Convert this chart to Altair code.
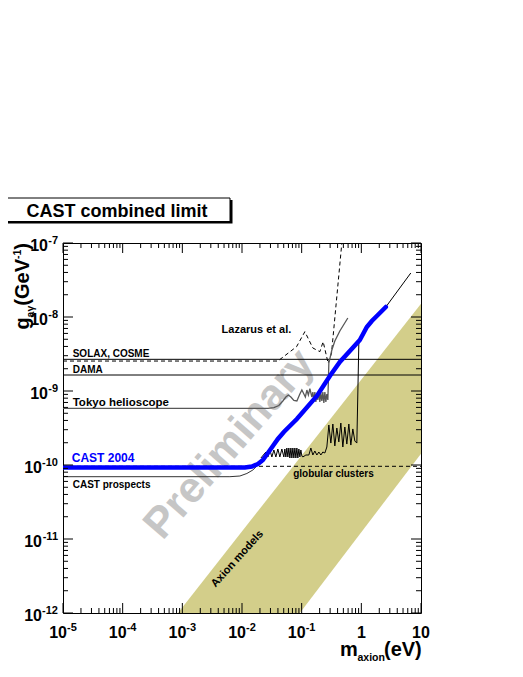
import altair as alt
import pandas as pd

FONT = "Liberation Sans"

# ---------------- data (mass in eV, coupling in GeV^-1) ----------------
blue_m = [1e-5, 0.01118, 0.01465, 0.01846, 0.02239, 0.02716, 0.03292, 0.03991, 0.05029,
          0.08309, 0.1797, 0.2968, 0.4363, 0.6417, 0.944, 1.236, 1.499, 1.890, 2.573]
blue_g = [9.25e-11, 9.25e-11, 9.54e-11, 1.032e-10, 1.168e-10, 1.453e-10, 1.81e-10, 2.245e-10, 2.79e-10,
          4.18e-10, 8.56e-10, 1.594e-9, 2.465e-9, 3.47e-9, 4.89e-9, 7.33e-9, 8.83e-9, 1.064e-8, 1.365e-8]

ext_m = [2.573, 6.745]
ext_g = [1.365e-8, 3.93e-8]

prosp_m = [1e-5, 0.00627, 0.00922, 0.01208, 0.01522, 0.01846, 0.02154]
prosp_g = [6.95e-11, 6.95e-11, 7.10e-11, 7.68e-11, 8.56e-11, 1.0e-10, 1.168e-10]

tokyo_m = [1e-5, 0.02716, 0.03421, 0.04148, 0.04839, 0.05431, 0.0598, 0.06594, 0.07401, 0.08309,
           0.09329, 0.1008, 0.1089, 0.1153, 0.1222, 0.1294, 0.1372, 0.1482, 0.1540, 0.1601,
           0.1664, 0.1729, 0.1797, 0.1868, 0.1941, 0.2017, 0.2097, 0.2180, 0.2265, 0.2354,
           0.2447, 0.2543, 0.2643, 0.2748, 0.2855, 0.3206, 0.3597, 0.4363, 0.5940]
tokyo_g = [5.83e-10, 5.83e-10, 5.98e-10, 6.37e-10, 7.33e-10, 8.30e-10, 8.83e-10, 8.30e-10, 7.44e-10, 7.33e-10,
           9.11e-10, 1.031e-9, 9.11e-10, 8.30e-10, 1.031e-9, 8.83e-10, 1.080e-9, 8.30e-10, 9.69e-10, 7.33e-10,
           9.69e-10, 7.10e-10, 9.40e-10, 7.56e-10, 1.0e-9, 7.10e-10, 9.40e-10, 7.33e-10, 9.69e-10, 6.88e-10,
           9.69e-10, 7.10e-10, 9.11e-10, 7.56e-10, 2.39e-9, 3.58e-9, 4.74e-9, 6.47e-9, 9.69e-9]

laz_m = [1e-5, 0.03991, 0.0821, 0.1131, 0.1540, 0.2017, 0.2291, 0.2779, 0.3168, 0.4713]
laz_g = [2.54e-9, 2.54e-9, 3.97e-9, 6.33e-9, 3.81e-9, 3.40e-9, 4.64e-9, 2.37e-9, 3.26e-9, 1e-7]

noisy_m = [0.02073, 0.02514, 0.02716, 0.02933, 0.03168, 0.03421, 0.03695, 0.03991, 0.04311, 0.04656,
           0.05029, 0.05226, 0.05431, 0.05644, 0.05866, 0.06096, 0.06343, 0.06594, 0.06852, 0.07122,
           0.07401, 0.07692, 0.07994, 0.08309, 0.08634, 0.08975, 0.09329, 0.09696, 0.1008, 0.1047,
           0.1176, 0.1320, 0.1426, 0.1540, 0.1664, 0.1797, 0.1941, 0.2097, 0.2265, 0.2447,
           0.2643, 0.2855, 0.3084, 0.3331, 0.3597, 0.3886, 0.4198, 0.4535, 0.4898, 0.5291,
           0.5715, 0.6174, 0.6668, 0.7203, 0.7781, 0.8405, 0.9080]
noisy_g = [1.243e-10, 1.498e-10, 1.283e-10, 1.595e-10, 1.283e-10, 1.595e-10, 1.283e-10, 1.645e-10, 1.283e-10, 1.645e-10,
           1.283e-10, 1.645e-10, 1.283e-10, 1.697e-10, 1.283e-10, 1.697e-10, 1.243e-10, 1.697e-10, 1.243e-10, 1.697e-10,
           1.243e-10, 1.697e-10, 1.243e-10, 1.697e-10, 1.243e-10, 1.645e-10, 1.283e-10, 1.595e-10, 1.323e-10, 1.283e-10,
           1.365e-10, 1.365e-10, 1.697e-10, 1.365e-10, 1.546e-10, 1.365e-10, 1.498e-10, 1.365e-10, 1.498e-10, 1.453e-10,
           1.75e-10, 3.47e-10, 1.98e-10, 3.58e-10, 1.81e-10, 3.16e-10, 2.05e-10, 3.69e-10, 1.75e-10, 3.26e-10,
           1.92e-10, 3.58e-10, 1.86e-10, 3.07e-10, 2.11e-10, 1.98e-10, 4.45e-9]

full_m = [1e-5, 10]
solax_g = [2.68e-9, 2.68e-9]
dama_g = [1.645e-9, 1.645e-9]
glob_g = [9.6e-11, 9.6e-11]

band_m = [8.44e-4, 0.0933, 10]
band_lo = [1e-12, 1e-12, 1.42e-10]
band_hi = [1e-12, 1.255e-10, 1.51e-8]

labels = ["SOLAX, COSME", "DAMA", "Tokyo helioscope", "CAST prospects", "Lazarus et al.", "globular clusters"]
label_m = [1.454e-5, 1.454e-5, 1.454e-5, 1.454e-5, 4.55e-3, 0.0720]
label_g = [2.91e-9, 1.767e-9, 6.27e-10, 4.89e-11, 6.13e-9, 6.88e-11]
label_size = [10, 10, 11.5, 10, 11, 10]

x_major = [1e-5, 1e-4, 1e-3, 1e-2, 1e-1, 1, 10]
x_minor = [k * 10.0 ** e for e in range(-5, 1) for k in range(2, 10)]
y_major = [1e-12, 1e-11, 1e-10, 1e-9, 1e-8, 1e-7]
y_minor = [k * 10.0 ** e for e in range(-12, -7) for k in range(2, 10)]

xlab_v = [1e-5, 1e-4, 1e-3, 1e-2, 1e-1]
xlab_sup = ["-5", "-4", "-3", "-2", "-1"]
xplain_v = [1, 10]
xplain_t = ["1", "10"]
ylab1_v = [1e-7, 1e-8, 1e-9]
ylab1_sup = ["-7", "-8", "-9"]
ylab2_v = [1e-10, 1e-11, 1e-12]
ylab2_sup = ["-10", "-11", "-12"]

W, H = 358, 370
XS = alt.Scale(type="log", domain=[1e-5, 10], nice=False)
YS = alt.Scale(type="log", domain=[1e-12, 1e-7], nice=False)


def X(f="m"):
    return alt.X(f"{f}:Q", scale=XS, axis=None)


def Y(f="g"):
    return alt.Y(f"{f}:Q", scale=YS, axis=None)


def line(m, g, **kw):
    df = pd.DataFrame({"m": m, "g": g})
    return alt.Chart(df).mark_line(clip=True, **kw).encode(x=X(), y=Y())


layers = []

# axion band
band = alt.Chart(pd.DataFrame({"m": band_m, "lo": band_lo, "hi": band_hi})).mark_area(
    color="#d3ce8a", opacity=1, clip=True
).encode(x=X(), y=Y("lo"), y2=alt.Y2("hi:Q"))
layers.append(band)

# watermark
layers.append(
    alt.Chart(pd.DataFrame({"m": [6.2e-3], "g": [1.9e-10], "t": ["Preliminary"]})).mark_text(
        font=FONT, fontWeight="bold", fontSize=43, color="#c6c6c6", angle=311,
        align="center", baseline="middle"
    ).encode(x=X(), y=Y(), text="t:N")
)
layers.append(
    alt.Chart(pd.DataFrame({"m": [8.37e-3], "g": [5.37e-12], "t": ["Axion models"]})).mark_text(
        font=FONT, fontWeight="bold", fontSize=11, color="black", angle=312,
        align="center", baseline="middle"
    ).encode(x=X(), y=Y(), text="t:N")
)

layers.append(line(full_m, glob_g, color="black", strokeWidth=1, strokeDash=[4, 3]))
layers.append(line(full_m, solax_g, color="black", strokeWidth=1))
layers.append(line(full_m, dama_g, color="black", strokeWidth=1))
layers.append(line(laz_m, laz_g, color="black", strokeWidth=1, strokeDash=[4, 3]))
layers.append(line(tokyo_m, tokyo_g, color="#585858", strokeWidth=1.3))
layers.append(line(prosp_m, prosp_g, color="#333333", strokeWidth=1))
layers.append(line(noisy_m, noisy_g, color="black", strokeWidth=1))
layers.append(line(ext_m, ext_g, color="black", strokeWidth=1))
layers.append(line(blue_m, blue_g, color="#0000ff", strokeWidth=4.5, strokeCap="round"))

# labels
for t, m, g, s in zip(labels, label_m, label_g, label_size):
    layers.append(
        alt.Chart(pd.DataFrame({"m": [m], "g": [g], "t": [t]})).mark_text(
            font=FONT, fontWeight="bold", fontSize=s, color="black", align="left", baseline="alphabetic"
        ).encode(x=X(), y=Y(), text="t:N")
    )
layers.append(
    alt.Chart(pd.DataFrame({"m": [1.40e-5], "g": [1.098e-10], "t": ["CAST 2004"]})).mark_text(
        font=FONT, fontWeight="bold", fontSize=12, color="#0000ff", align="left", baseline="alphabetic"
    ).encode(x=X(), y=Y(), text="t:N")
)

# ticks (inside, on all four sides)
def xticks(vals, ln):
    df = pd.DataFrame({"v": vals})
    bot = alt.Chart(df).mark_rule(color="black", strokeWidth=1).encode(
        x=X("v"), y=alt.value(H), y2=alt.value(H - ln))
    top = alt.Chart(df).mark_rule(color="black", strokeWidth=1).encode(
        x=X("v"), y=alt.value(0), y2=alt.value(ln))
    return [bot, top]


def yticks(vals, ln):
    df = pd.DataFrame({"v": vals})
    left = alt.Chart(df).mark_rule(color="black", strokeWidth=1).encode(
        y=Y("v"), x=alt.value(0), x2=alt.value(ln))
    right = alt.Chart(df).mark_rule(color="black", strokeWidth=1).encode(
        y=Y("v"), x=alt.value(W), x2=alt.value(W - ln))
    return [left, right]


layers += xticks(x_major, 10) + xticks(x_minor, 5) + yticks(y_major, 10) + yticks(y_minor, 5)

# tick labels
tl = dict(font=FONT, fontWeight="bold", color="black", baseline="alphabetic")
dfx = pd.DataFrame({"v": xlab_v, "b": ["10"] * len(xlab_v), "s": xlab_sup})
layers.append(alt.Chart(dfx).mark_text(align="right", dx=4, fontSize=16, **tl).encode(
    x=X("v"), y=alt.value(H + 25), text="b:N"))
layers.append(alt.Chart(dfx).mark_text(align="left", dx=4, fontSize=11, **tl).encode(
    x=X("v"), y=alt.value(H + 18), text="s:N"))
dfxp = pd.DataFrame({"v": xplain_v, "b": xplain_t})
layers.append(alt.Chart(dfxp).mark_text(align="center", fontSize=16, **tl).encode(
    x=X("v"), y=alt.value(H + 25), text="b:N"))

for vals, sups, xb in [(ylab1_v, ylab1_sup, -15), (ylab2_v, ylab2_sup, -21)]:
    dfy = pd.DataFrame({"v": vals, "b": ["10"] * len(vals), "s": sups})
    layers.append(alt.Chart(dfy).mark_text(align="right", dy=7.5, fontSize=16, **tl).encode(
        y=Y("v"), x=alt.value(xb), text="b:N"))
    layers.append(alt.Chart(dfy).mark_text(align="right", dy=0.5, fontSize=11, **tl).encode(
        y=Y("v"), x=alt.value(-5), text="s:N"))


def ptext(t, x, y, size, angle=0, align="left"):
    kw = dict(font=FONT, fontWeight="bold", fontSize=size, color="black",
              align=align, baseline="alphabetic")
    if angle:
        kw["angle"] = angle
    return alt.Chart(pd.DataFrame({"t": [t]})).mark_text(**kw).encode(
        x=alt.value(x), y=alt.value(y), text="t:N")


# x-axis title  m_axion(eV)
layers.append(ptext("m", 277, 413, 20))
layers.append(ptext("axion", 294.5, 418, 10.5))
layers.append(ptext("(eV)", 321, 413, 20))

# y-axis title  g_aγ(GeV^-1), rotated
layers.append(ptext("g", -34, 86.6, 20, angle=270))
layers.append(ptext("aγ", -29, 74.4, 10.5, angle=270))
layers.append(ptext("(GeV", -34, 62.7, 20, angle=270))
layers.append(ptext("-1", -42, 16, 10.5, angle=270))
layers.append(ptext(")", -34, 6.7, 20, angle=270))

# title box
one = pd.DataFrame({"a": [0]})
layers.append(alt.Chart(one).mark_rect(color="black").encode(
    x=alt.value(-58), x2=alt.value(169.5), y=alt.value(-43), y2=alt.value(-19.5)))
layers.append(alt.Chart(one).mark_rect(fill="white", stroke="black", strokeWidth=1).encode(
    x=alt.value(-60), x2=alt.value(167), y=alt.value(-45), y2=alt.value(-21.5)))
layers.append(ptext("CAST combined limit", 54, -26, 18, align="center"))

chart = alt.layer(*layers).properties(
    width=W, height=H,
    autosize=alt.AutoSizeParams(type="none"),
    padding={"left": 55, "top": 235, "right": 40, "bottom": 52},
).configure_view(stroke="black", strokeWidth=1)

chart.save("out.html", embed_options={"renderer": "svg", "actions": False})
